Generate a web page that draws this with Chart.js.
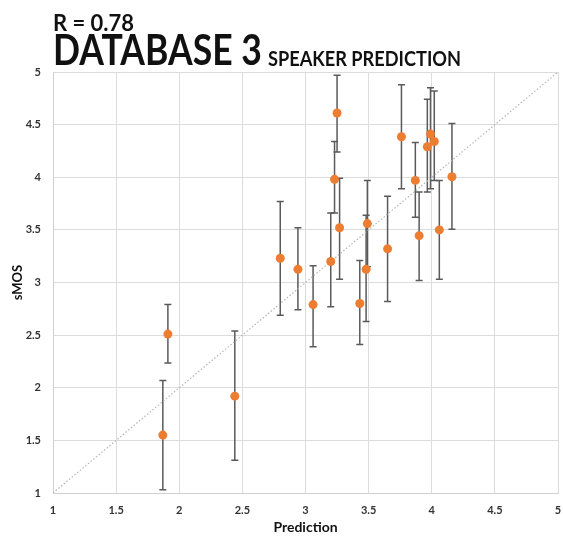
<!DOCTYPE html>
<html>
<head>
<meta charset="utf-8">
<script src="https://cdn.jsdelivr.net/npm/chart.js@4.4.1/dist/chart.umd.min.js"></script>
<style>
  html, body { margin: 0; padding: 0; background: #fff; }
  #wrap { position: relative; width: 563px; height: 536px; overflow: hidden; }
  #c { position: absolute; left: 0; top: 0; }
  .t { position: absolute; font-family: Lato, "Open Sans", sans-serif; font-weight: bold; color: #111; white-space: nowrap; line-height: 1; transform-origin: 0 0; }
  #r  { left: 53px; top: 12px; font-size: 22px; }
  #db { left: 53px; top: 28px; font-size: 42px; }
  #sp { left: 268px; top: 46.5px; font-size: 21px; }
</style>
</head>
<body>
<div id="wrap">
  <canvas id="c" width="563" height="536"></canvas>
  <div class="t" id="r" data-w="81">R = 0.78</div>
  <div class="t" id="db" data-w="209">DATABASE 3</div>
  <div class="t" id="sp" data-w="193">SPEAKER PREDICTION</div>
</div>
<script>
const predictions = [1.87, 1.91, 2.44, 2.80, 2.94, 3.06, 3.20, 3.25, 3.23, 3.27, 3.43, 3.48, 3.49, 3.65, 3.76, 3.87, 3.90, 3.965, 3.99, 4.02, 4.06, 4.16];
const smos        = [1.55, 2.51, 1.92, 3.23, 3.125, 2.79, 3.20, 4.61, 3.98, 3.52, 2.80, 3.125, 3.56, 3.32, 4.385, 3.97, 3.445, 4.29, 4.41, 4.34, 3.50, 4.005];
const smosLow     = [1.03, 2.235, 1.31, 2.69, 2.74, 2.39, 2.77, 4.24, 3.66, 3.03, 2.41, 2.63, 3.15, 2.82, 3.89, 3.62, 3.02, 3.86, 3.89, 3.97, 3.03, 3.505];
const smosHigh    = [2.07, 2.79, 2.54, 3.77, 3.52, 3.16, 3.66, 4.97, 4.34, 3.99, 3.21, 3.64, 3.97, 3.82, 4.88, 4.33, 3.86, 4.74, 4.85, 4.82, 3.97, 4.51];
const diagonal    = [1, 5];
const axisTicks   = [1, 1.5, 2, 2.5, 3, 3.5, 4, 4.5, 5];

function fitTitles() {
  document.querySelectorAll('.t').forEach(el => {
    el.style.transform = 'none';
    const w = el.getBoundingClientRect().width;
    const target = parseFloat(el.dataset.w);
    if (w > 0) el.style.transform = 'scaleX(' + (target / w) + ')';
  });
}
fitTitles();
if (document.fonts && document.fonts.ready) document.fonts.ready.then(fitTitles);

const points = predictions.map((x, i) => ({ x: x, y: smos[i] }));
const diagPoints = diagonal.map(v => ({ x: v, y: v }));

const errorBars = {
  id: 'errorBars',
  beforeDatasetsDraw(chart) {
    const { ctx, scales: { x, y } } = chart;
    ctx.save();
    ctx.strokeStyle = '#5a5a5a';
    ctx.lineWidth = 1.5;
    predictions.forEach((px, i) => {
      const xp = x.getPixelForValue(px);
      const yl = y.getPixelForValue(smosLow[i]);
      const yh = y.getPixelForValue(smosHigh[i]);
      ctx.beginPath();
      ctx.moveTo(xp, yl); ctx.lineTo(xp, yh);
      ctx.moveTo(xp - 3.5, yl); ctx.lineTo(xp + 3.5, yl);
      ctx.moveTo(xp - 3.5, yh); ctx.lineTo(xp + 3.5, yh);
      ctx.stroke();
    });
    ctx.restore();
  }
};

const tickFont = { family: 'Lato, "Open Sans", sans-serif', size: 11, weight: 'bold' };
const fmt = v => String(v);

new Chart(document.getElementById('c'), {
  type: 'scatter',
  data: {
    datasets: [
      {
        type: 'line',
        data: diagPoints,
        borderColor: '#b5b5b5',
        borderWidth: 1.2,
        borderDash: [1.5, 2],
        pointRadius: 0,
        fill: false,
        order: 2
      },
      {
        data: points,
        backgroundColor: '#ED7D31',
        borderColor: '#ED7D31',
        pointRadius: 4.5,
        borderWidth: 0,
        order: 1
      }
    ]
  },
  plugins: [errorBars],
  options: {
    responsive: false,
    animation: false,
    layout: { padding: { top: 72, right: 5, left: 0, bottom: 0 } },
    plugins: { legend: { display: false }, tooltip: { enabled: false } },
    scales: {
      x: {
        type: 'linear', min: 1, max: 5,
        afterBuildTicks: s => { s.ticks = axisTicks.map(v => ({ value: v })); },
        afterFit: s => { s.height = 43; s.paddingRight = 0; s.paddingLeft = 0; },
        grid: { color: '#dcdcdc', drawTicks: false, lineWidth: 1 },
        border: { color: '#d0d0d0' },
        ticks: { color: '#333', font: tickFont, padding: 11, callback: fmt },
        title: { display: true, text: 'Prediction', color: '#111', font: { family: 'Lato, "Open Sans", sans-serif', size: 14, weight: 'bold' }, padding: { top: 2, bottom: 0 } }
      },
      y: {
        type: 'linear', min: 1, max: 5,
        afterBuildTicks: s => { s.ticks = axisTicks.map(v => ({ value: v })); },
        afterFit: s => { s.width = 53; },
        grid: { color: '#dcdcdc', drawTicks: false, lineWidth: 1 },
        border: { color: '#d0d0d0' },
        ticks: { color: '#333', font: tickFont, padding: 12, callback: fmt },
        title: { display: true, text: 'sMOS', color: '#111', font: { family: 'Lato, "Open Sans", sans-serif', size: 13, weight: 'bold' }, padding: { top: 10, bottom: 0 } }
      }
    }
  }
});
</script>
</body>
</html>
